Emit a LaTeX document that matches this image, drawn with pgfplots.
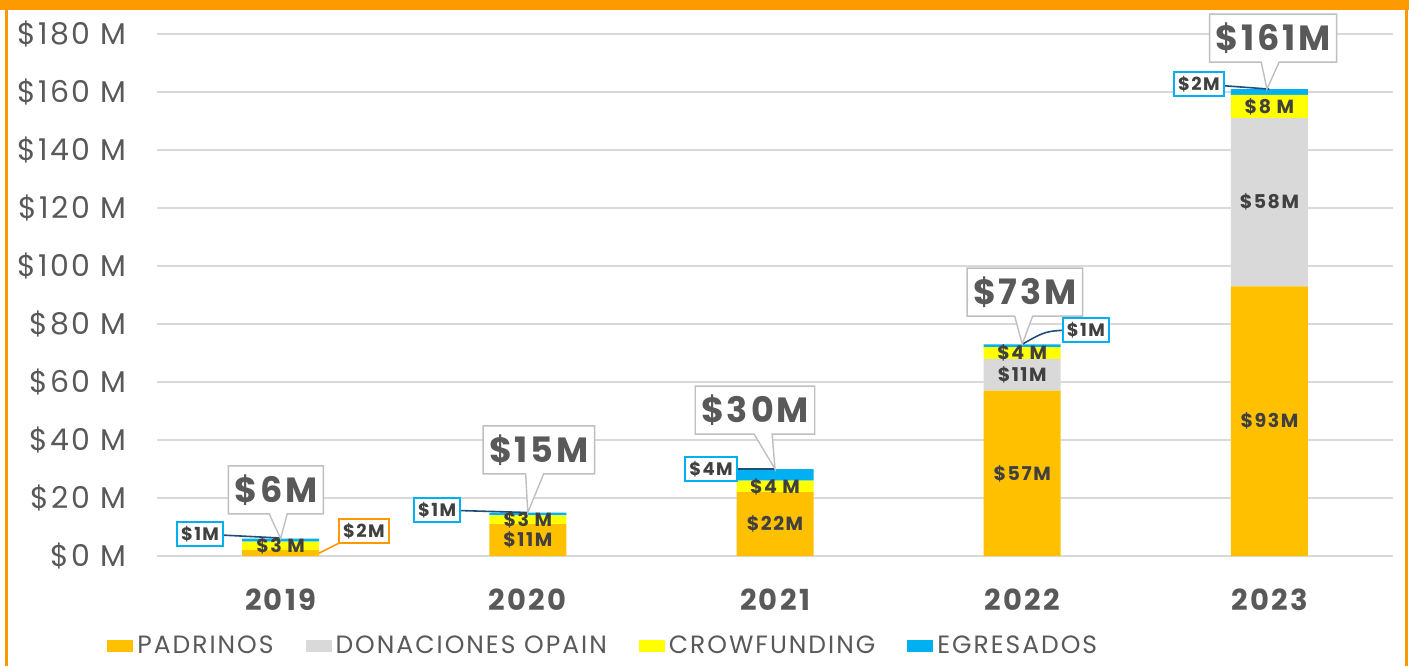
\documentclass[border=0pt]{standalone}
\usepackage{pgfplots}
\pgfplotsset{compat=1.18}
\usepackage{fontspec}
\setmainfont{Poppins}[LetterSpace=8]
\usetikzlibrary{shapes.callouts}

\definecolor{padr}{HTML}{FFC000}
\definecolor{dona}{HTML}{D9D9D9}
\definecolor{crow}{HTML}{FFFF00}
\definecolor{egre}{HTML}{00B0F0}
\definecolor{frame}{HTML}{FF9900}
\definecolor{txt}{HTML}{595959}
\definecolor{lbl}{HTML}{404040}
\definecolor{lead}{HTML}{1F4E79}

\pgfplotsset{
  sq/.style={legend image code/.code={\fill[##1] (0pt,-3pt) rectangle (13pt,3pt);}},
}
\tikzset{
  inlbl/.style={text=lbl, font=\bfseries\fontsize{9.5}{10}\selectfont, inner sep=0pt},
  tot/.style={rectangle callout, draw=black!25, line width=0.7pt, fill=white, text=txt,
    font=\bfseries\fontsize{17.5}{18}\selectfont, inner xsep=3pt, minimum height=24pt,
    callout pointer width=9pt},
  sm/.style={draw=egre, line width=1pt, fill=white, text=lbl,
    font=\bfseries\fontsize{9}{10}\selectfont, inner xsep=2pt, inner ysep=1pt, minimum height=12pt},
  ld/.style={lead, line width=0.8pt},
}

\begin{document}
\begin{tikzpicture}
\useasboundingbox (0,0) rectangle (704.5pt,333pt);
\fill[white] (0,0) rectangle (704.5pt,333pt);
\begin{axis}[
  at={(78.5pt,55pt)}, anchor=south west,
  scale only axis, width=618pt, height=261pt,
  ybar stacked, bar width=38.5pt,
  xmin=-0.5, xmax=4.5, ymin=0, ymax=180,
  xtick={0,...,4}, xticklabels={2019,2020,2021,2022,2023},
  ytick={0,20,...,180},
  yticklabels={\$0 M,\$20 M,\$40 M,\$60 M,\$80 M,\$100 M,\$120 M,\$140 M,\$160 M,\$180 M},
  axis line style={draw=none}, tick style={draw=none},
  ymajorgrids, grid style={dona, line width=1pt},
  xticklabel style={anchor=north, inner sep=0pt, yshift=-16pt, text=txt,
    font=\bfseries\fontsize{14.5}{15}\selectfont},
  yticklabel style={anchor=east, inner sep=0pt, xshift=-15pt, text=txt,
    font=\fontsize{15}{16}\selectfont},
  legend columns=4,
  legend style={at={(-0.0405,-0.172)}, anchor=west, draw=none, fill=none,
    inner sep=0pt, text=txt, font=\fontsize{12.5}{13}\selectfont,
    nodes={inner xsep=2pt, inner ysep=0pt},
    /tikz/every even column/.append style={column sep=14pt}},
  clip=false,
]
\addplot[fill=padr, draw=none, sq] coordinates {(0,2) (1,11) (2,22) (3,57) (4,93)};
\addlegendentry{PADRINOS}
\addplot[fill=dona, draw=none, sq] coordinates {(0,0) (1,0) (2,0) (3,11) (4,58)};
\addlegendentry{DONACIONES OPAIN}
\addplot[fill=crow, draw=none, sq] coordinates {(0,3) (1,3) (2,4) (3,4) (4,8)};
\addlegendentry{CROWFUNDING}
\addplot[fill=egre, draw=none, sq] coordinates {(0,1) (1,1) (2,4) (3,1) (4,2)};
\addlegendentry{EGRESADOS}

% anchor points for the annotations
\coordinate (i1) at (axis cs:0,3.5);
\coordinate (i2) at (axis cs:1,5.5);
\coordinate (i3) at (axis cs:1,12.5);
\coordinate (i4) at (axis cs:2,11);
\coordinate (i5) at (axis cs:2,24);
\coordinate (i6) at (axis cs:3,28.5);
\coordinate (i7) at (axis cs:3,62.5);
\coordinate (i8) at (axis cs:3,70);
\coordinate (i9) at (axis cs:4,46.5);
\coordinate (i10) at (axis cs:4,122);
\coordinate (i11) at (axis cs:4,155);
\coordinate (s1) at (axis cs:-0.326,7.6);
\coordinate (s2) at (axis cs:0.337,8.6);
\coordinate (s3) at (axis cs:0.633,15.9);
\coordinate (s4) at (axis cs:1.741,30);
\coordinate (s5) at (axis cs:3.258,77.9);
\coordinate (s6) at (axis cs:3.715,162.8);
\coordinate (t1) at (axis cs:0,6.2);
\coordinate (t2) at (axis cs:0.156,1);
\coordinate (u2) at (axis cs:0.245,4.8);
\coordinate (t3) at (axis cs:1,15);
\coordinate (t4) at (axis cs:2,30);
\coordinate (t5) at (axis cs:3,73);
\coordinate (k5) at (axis cs:3.1,77.9);
\coordinate (t6) at (axis cs:4,161);
\coordinate (c1) at (axis cs:-0.019,22.8);
\coordinate (c2) at (axis cs:1.045,36.6);
\coordinate (c3) at (axis cs:1.919,50.3);
\coordinate (c4) at (axis cs:3.011,91);
\coordinate (c5) at (axis cs:4.015,178.6);
\coordinate (q1) at (axis cs:0,6);
\coordinate (q2) at (axis cs:1,15);
\coordinate (q3) at (axis cs:2,30);
\coordinate (q4) at (axis cs:3,73);
\coordinate (q5) at (axis cs:3.99,161);
\end{axis}

% leader lines
\draw[ld] (s1) -- (t1);
\draw[frame, line width=0.8pt] (t2) -- (u2);
\draw[ld] (s3) -- (t3);
\draw[ld] (s4) -- (t4);
\draw[ld] (s5) .. controls (k5) .. (t5);
\draw[ld] (s6) -- (t6);
% labels inside the bars
\node[inlbl] at (i1) {\$3 M};
\node[inlbl] at (i2) {\$11M};
\node[inlbl] at (i3) {\$3 M};
\node[inlbl] at (i4) {\$22M};
\node[inlbl] at (i5) {\$4 M};
\node[inlbl] at (i6) {\$57M};
\node[inlbl] at (i7) {\$11M};
\node[inlbl] at (i8) {\$4 M};
\node[inlbl] at (i9) {\$93M};
\node[inlbl] at (i10) {\$58M};
\node[inlbl] at (i11) {\$8 M};
% small boxed labels
\node[sm] at (s1) {\$1M};
\node[sm, draw=frame] at (s2) {\$2M};
\node[sm] at (s3) {\$1M};
\node[sm] at (s4) {\$4M};
\node[sm] at (s5) {\$1M};
\node[sm] at (s6) {\$2M};
% totals
\node[tot, callout absolute pointer={(q1)}] at (c1) {\$6M};
\node[tot, callout absolute pointer={(q2)}] at (c2) {\$15M};
\node[tot, callout absolute pointer={(q3)}] at (c3) {\$30M};
\node[tot, callout absolute pointer={(q4)}] at (c4) {\$73M};
\node[tot, callout absolute pointer={(q5)}] at (c5) {\$161M};

\fill[frame] (0,328pt) rectangle (704.5pt,333pt);
\fill[frame] (2.5pt,0) rectangle (4pt,333pt);
\fill[frame] (702.5pt,0) rectangle (704pt,333pt);
\end{tikzpicture}
\end{document}
